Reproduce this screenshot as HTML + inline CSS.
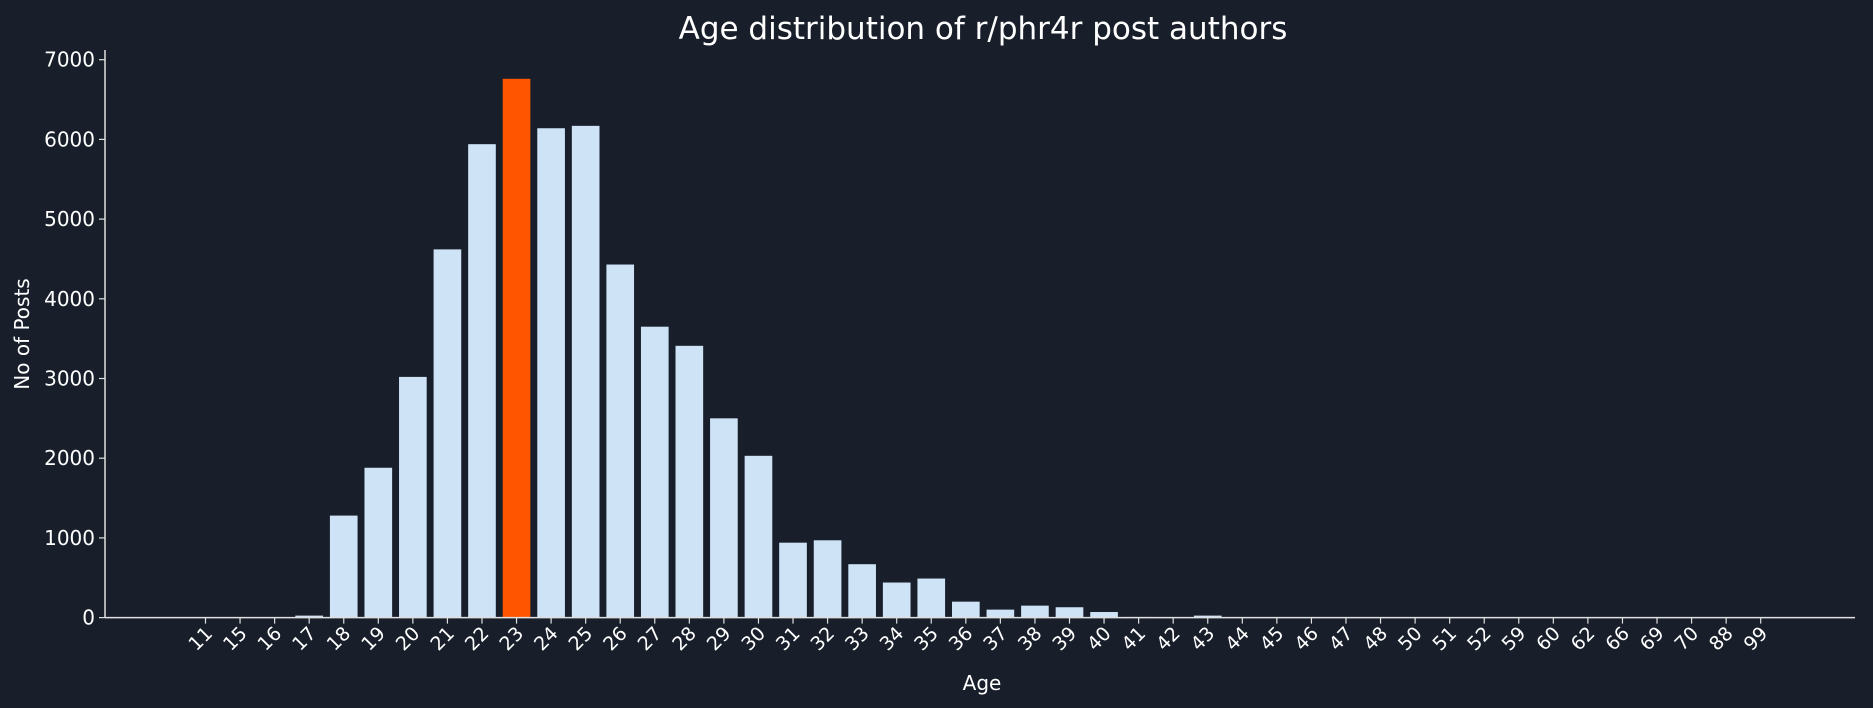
<!DOCTYPE html>
<html><head><meta charset="utf-8"><style>
body{margin:0;background:#181f2b;}
svg{display:block;font-family:"DejaVu Sans","Liberation Sans",sans-serif;}
</style></head><body>
<svg id="chart" width="1873" height="708">
<rect width="1873" height="708" fill="#181f2b"/>
<text x="983" y="39" fill="#ffffff" font-size="31" text-anchor="middle">Age distribution of r/phr4r post authors</text>
<text x="982" y="690" fill="#ffffff" font-size="20" text-anchor="middle">Age</text>
<text transform="translate(29,334) rotate(-90)" fill="#ffffff" font-size="20" text-anchor="middle">No of Posts</text>
<g id="bars"></g><g id="axes"></g>
</svg>
<script>
const categories=["11","15","16","17","18","19","20","21","22","23","24","25","26","27","28","29","30","31","32","33","34","35","36","37","38","39","40","41","42","43","44","45","46","47","48","50","51","52","59","60","62","66","69","70","88","99"];
const values=[2,2,3,25,1280,1880,3020,4620,5940,6760,6140,6170,4430,3650,3410,2500,2030,940,970,670,440,490,200,100,150,130,70,8,5,25,5,5,3,5,5,5,2,2,2,1,1,1,4,1,1,1];
const highlight="23";
const yTicks=[0,1000,2000,3000,4000,5000,6000,7000];
const NS="http://www.w3.org/2000/svg";
const x0=205.5,x1=1760.7,axL=105,axR=1855,axT=50,y0=617.6,y7=59.7;
const step=(x1-x0)/(categories.length-1);
const xs=i=>x0+i*step;
const ys=v=>y0-(v/7000)*(y0-y7);
const bars=document.getElementById('bars'),axes=document.getElementById('axes');
function mk(t,a,p){const e=document.createElementNS(NS,t);for(const k in a)e.setAttribute(k,a[k]);p.appendChild(e);return e;}
categories.forEach((c,i)=>{
  const w=step*0.8,h=y0-ys(values[i]);
  const r=mk('rect',{x:xs(i)-w/2,y:ys(values[i]),width:w,height:Math.max(h,0),fill:c===highlight?'#ff5500':'#cfe3f7'},bars);
  
  
  const t=mk('line',{x1:xs(i),x2:xs(i),y1:y0,y2:y0+6,stroke:'#e0e0e0','stroke-width':1.2},axes);
  
  
  const l=mk('text',{x:0,y:0,fill:'#ffffff','font-size':19,'text-anchor':'end',transform:`translate(${xs(i)+8},${y0+17}) rotate(-45)`},axes);
  l.textContent=c;
  
  
});
yTicks.forEach(v=>{
  const t=mk('line',{x1:axL-6,x2:axL,y1:ys(v),y2:ys(v),stroke:'#e0e0e0','stroke-width':1.2},axes);
  
  
  const l=mk('text',{x:axL-10,y:ys(v)+7,fill:'#ffffff','font-size':20,'text-anchor':'end'},axes);
  l.textContent=v;
  
  
});
const ya=mk('line',{x1:axL,x2:axL,y1:axT,y2:y0,stroke:'#e0e0e0','stroke-width':1.5},axes);


const xa=mk('line',{x1:axL,x2:axR,y1:y0,y2:y0,stroke:'#e0e0e0','stroke-width':1.5},axes);


</script>
</body></html>
